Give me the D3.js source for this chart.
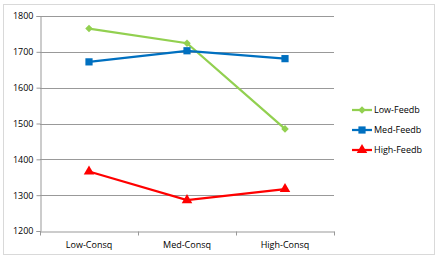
<!DOCTYPE html>
<html>
<head>
<meta charset="utf-8">
<script src="https://cdn.jsdelivr.net/npm/d3@7"></script>
<style>
  body { margin: 0; background: #fff; }
  text { font-family: "Open Sans", "Liberation Sans", sans-serif; font-size: 9px; fill: #000; }
</style>
</head>
<body>
<div id="chart"></div>
<script>
var widthT = 437, heightT = 256;

var categories = ["Low-Consq", "Med-Consq", "High-Consq"];
var seriesNames = ["Low-Feedb", "Med-Feedb", "High-Feedb"];
var lowFeedb = [1765, 1724, 1485];
var medFeedb = [1672, 1703, 1681];
var highFeedb = [1366, 1286, 1317];
var yTicks = [1200, 1300, 1400, 1500, 1600, 1700, 1800];

var colors = ["#92d050", "#0070c0", "#ff0000"];
var shapes = [d3.symbolDiamond2 || d3.symbolDiamond, d3.symbolSquare, d3.symbolTriangle];
var sizes = [36, 52, 48];

var series = [lowFeedb, medFeedb, highFeedb].map(function(v, i) {
  return { name: seriesNames[i], values: v, color: colors[i], shape: shapes[i], size: sizes[i] };
});

var margin = {top: 16, left: 40},
    width = 294,
    height = 215;

var svg = d3.select("#chart").append("svg")
    .attr("width", widthT)
    .attr("height", heightT);

// outer chart border
svg.append("rect")
    .attr("x", 3.5).attr("y", 4.5)
    .attr("width", 431).attr("height", 250)
    .attr("fill", "#fff")
    .attr("stroke", "#d9d9d9");

var g = svg.append("g")
    .attr("transform", "translate(" + margin.left + "," + margin.top + ")");

var x = d3.scaleBand().domain(categories).range([0, width]);
var y = d3.scaleLinear().domain([1200, 1800]).range([height, 0]);

// gridlines
g.selectAll("line.grid")
  .data(yTicks.slice(1))
  .enter().append("line")
    .attr("class", "grid")
    .attr("x1", 0).attr("x2", width)
    .attr("y1", function(d) { return Math.round(y(d)) + 0.5; })
    .attr("y2", function(d) { return Math.round(y(d)) + 0.5; })
    .attr("stroke", "#999")
    .attr("stroke-width", 1);

// y axis
var yAxis = g.append("g")
    .attr("transform", "translate(0.5,0)")
    .call(d3.axisLeft(y).tickValues(yTicks).tickSize(4).tickPadding(3).tickFormat(d3.format("d")));
yAxis.select(".domain").attr("stroke", "#999");
yAxis.selectAll(".tick line").attr("stroke", "#999");
yAxis.selectAll("text").attr("font-size", "9.5px");

// x axis
var xAxis = g.append("g")
    .attr("transform", "translate(0," + (height + 0.5) + ")")
    .call(d3.axisBottom(x).tickSize(0).tickPadding(10));
xAxis.select(".domain").attr("stroke", "#999");
xAxis.selectAll("text").attr("font-size", "9px");
xAxis.selectAll("line.cat")
  .data(d3.range(categories.length + 1))
  .enter().append("line")
    .attr("class", "cat")
    .attr("x1", function(i) { return i * x.step() + 0.5; })
    .attr("x2", function(i) { return i * x.step() + 0.5; })
    .attr("y1", 0).attr("y2", 4)
    .attr("stroke", "#999");

var line = d3.line()
    .x(function(d, i) { return x(categories[i]) + x.bandwidth() / 2; })
    .y(function(d) { return y(d); });

series.forEach(function(s) {
  g.append("path")
      .datum(s.values)
      .attr("fill", "none")
      .attr("stroke", s.color)
      .attr("stroke-width", 2.25)
      .attr("d", line);
  g.selectAll(null)
    .data(s.values)
    .enter().append("path")
      .attr("transform", function(d, i) {
        return "translate(" + (x(categories[i]) + x.bandwidth() / 2) + "," + y(d) + ")";
      })
      .attr("d", d3.symbol().type(s.shape).size(s.size))
      .attr("fill", s.color);
});

// legend
var legend = svg.append("g").attr("transform", "translate(352,110)");
series.forEach(function(s, i) {
  var row = legend.append("g").attr("transform", "translate(0," + (i * 20) + ")");
  row.append("line")
      .attr("x1", 0).attr("x2", 20)
      .attr("stroke", s.color).attr("stroke-width", 2.25);
  row.append("path")
      .attr("transform", "translate(10,0)")
      .attr("d", d3.symbol().type(s.shape).size(s.size))
      .attr("fill", s.color);
  row.append("text")
      .attr("x", 22).attr("dy", "0.35em")
      .text(s.name);
});
</script>
</body>
</html>
